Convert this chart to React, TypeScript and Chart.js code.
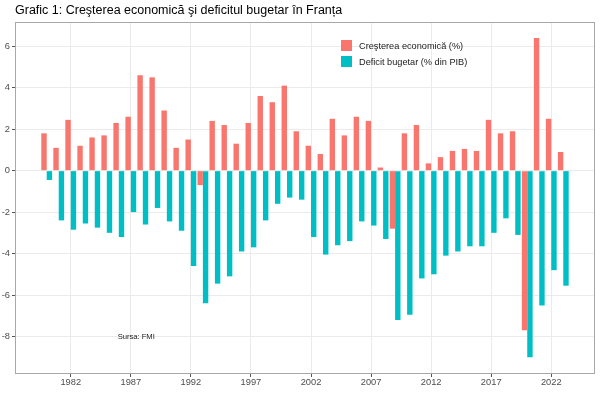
import React, { useEffect, useRef } from "react";
import { Chart, registerables } from "chart.js";

Chart.register(...registerables);

const years: number[] = [
  1980, 1981, 1982, 1983, 1984, 1985, 1986, 1987, 1988, 1989,
  1990, 1991, 1992, 1993, 1994, 1995, 1996, 1997, 1998, 1999,
  2000, 2001, 2002, 2003, 2004, 2005, 2006, 2007, 2008, 2009,
  2010, 2011, 2012, 2013, 2014, 2015, 2016, 2017, 2018, 2019,
  2020, 2021, 2022, 2023,
];

const growth: number[] = [
  1.8, 1.1, 2.45, 1.2, 1.6, 1.7, 2.3, 2.6, 4.6, 4.5,
  2.9, 1.1, 1.5, -0.7, 2.4, 2.2, 1.3, 2.3, 3.6, 3.3,
  4.1, 1.9, 1.2, 0.8, 2.5, 1.7, 2.6, 2.4, 0.15, -2.8,
  1.8, 2.2, 0.35, 0.65, 0.95, 1.05, 0.95, 2.45, 1.8, 1.9,
  -7.7, 6.4, 2.5, 0.9,
];

const deficit: number[] = [
  -0.45, -2.4, -2.85, -2.55, -2.75, -3.0, -3.2, -2.0, -2.6, -1.8,
  -2.45, -2.9, -4.6, -6.4, -5.45, -5.1, -3.9, -3.7, -2.4, -1.6,
  -1.3, -1.4, -3.2, -4.05, -3.6, -3.4, -2.45, -2.65, -3.3, -7.2,
  -6.95, -5.2, -5.0, -4.1, -3.9, -3.65, -3.65, -3.0, -2.3, -3.1,
  -9.0, -6.5, -4.8, -5.55,
];

const seriesLabels: string[] = ["Creşterea economică (%)", "Deficit bugetar (% din PIB)"];
const seriesColors: string[] = ["#F8766D", "#00BFC4"];

const xTicks: number[] = [1982, 1987, 1992, 1997, 2002, 2007, 2012, 2017, 2022];
const yTicks: number[] = [-8, -6, -4, -2, 0, 2, 4, 6];

const xMin = 1977.36;
const xMax = 2025.64;
const yMin = -9.81;
const yMax = 7.17;

const titleText = "Grafic 1: Creşterea economică şi deficitul bugetar în Franța";
const noteText = "Sursa: FMI";
const noteX = 1987.45;
const noteY = -8;

const FONT = "'Liberation Sans', Arial, sans-serif";

const decorPlugin = {
  id: "decor",
  afterDraw(chart: any) {
    const { ctx, chartArea } = chart;
    ctx.save();
    // panel border
    ctx.strokeStyle = "#A8A8A8";
    ctx.lineWidth = 1;
    ctx.strokeRect(
      Math.round(chartArea.left) + 0.5,
      Math.round(chartArea.top) + 0.5,
      Math.round(chartArea.right - chartArea.left) - 1,
      Math.round(chartArea.bottom - chartArea.top) - 1
    );
    // title
    ctx.fillStyle = "#000000";
    ctx.font = `12.5px ${FONT}`;
    ctx.textAlign = "left";
    ctx.textBaseline = "alphabetic";
    ctx.fillText(titleText, chartArea.left, 13.5);
    // legend
    const lx = 341;
    const ly = [40, 56];
    ctx.font = `9.2px ${FONT}`;
    ctx.textBaseline = "middle";
    chart.data.datasets.forEach((ds: any, i: number) => {
      ctx.fillStyle = ds.backgroundColor;
      ctx.fillRect(lx, ly[i], 11, 11);
      ctx.fillStyle = "#1A1A1A";
      ctx.fillText(ds.label, lx + 18, ly[i] + 6);
    });
    // note
    const xs = chart.scales.x;
    const ys = chart.scales.y;
    ctx.font = `7.6px ${FONT}`;
    ctx.textAlign = "center";
    ctx.fillStyle = "#1A1A1A";
    ctx.fillText(noteText, xs.getPixelForValue(noteX), ys.getPixelForValue(noteY));
    ctx.restore();
  },
};

export default function App() {
  const ref = useRef<HTMLCanvasElement | null>(null);

  useEffect(() => {
    if (!ref.current) return;
    const chart = new Chart(ref.current, {
      type: "bar",
      data: {
        datasets: [
          {
            label: seriesLabels[0],
            data: years.map((y, i) => ({ x: y, y: growth[i] })),
            backgroundColor: seriesColors[0],
            borderWidth: 0,
          },
          {
            label: seriesLabels[1],
            data: years.map((y, i) => ({ x: y, y: deficit[i] })),
            backgroundColor: seriesColors[1],
            borderWidth: 0,
          },
        ],
      },
      options: {
        responsive: false,
        animation: false,
        devicePixelRatio: 1,
        categoryPercentage: 0.9,
        barPercentage: 1.0,
        layout: { padding: { left: 0, right: 5, top: 22, bottom: 0 } },
        plugins: {
          legend: { display: false },
          title: { display: false },
          tooltip: { enabled: false },
        },
        scales: {
          x: {
            type: "linear",
            min: xMin,
            max: xMax,
            offset: false,
            afterBuildTicks: (scale: any) => {
              scale.ticks = xTicks.map((v) => ({ value: v }));
            },
            afterFit: (scale: any) => {
              scale.height = 25;
            },
            grid: {
              color: "#EBEBEB",
              lineWidth: 1,
              drawTicks: true,
              tickLength: 3,
              tickColor: "#555555",
              offset: false,
            },
            border: { display: false },
            ticks: {
              padding: 0,
              maxRotation: 0,
              autoSkip: false,
              color: "#4D4D4D",
              font: { family: FONT, size: 9.3 },
              callback: (v: any) => String(v),
            },
          },
          y: {
            type: "linear",
            min: yMin,
            max: yMax,
            afterBuildTicks: (scale: any) => {
              scale.ticks = yTicks.map((v) => ({ value: v }));
            },
            afterFit: (scale: any) => {
              scale.width = 15;
            },
            grid: {
              color: "#EBEBEB",
              lineWidth: 1,
              drawTicks: true,
              tickLength: 3,
              tickColor: "#555555",
            },
            border: { display: false },
            ticks: {
              padding: 2,
              color: "#4D4D4D",
              font: { family: FONT, size: 9.3 },
              callback: (v: any) => String(v),
            },
          },
        },
      },
      plugins: [decorPlugin],
    } as any);
    return () => chart.destroy();
  }, []);

  return (
    <div style={{ position: "fixed", left: 0, top: 0, width: 600, height: 399, background: "#fff" }}>
      <canvas ref={ref} width={600} height={399} style={{ display: "block" }} />
    </div>
  );
}
